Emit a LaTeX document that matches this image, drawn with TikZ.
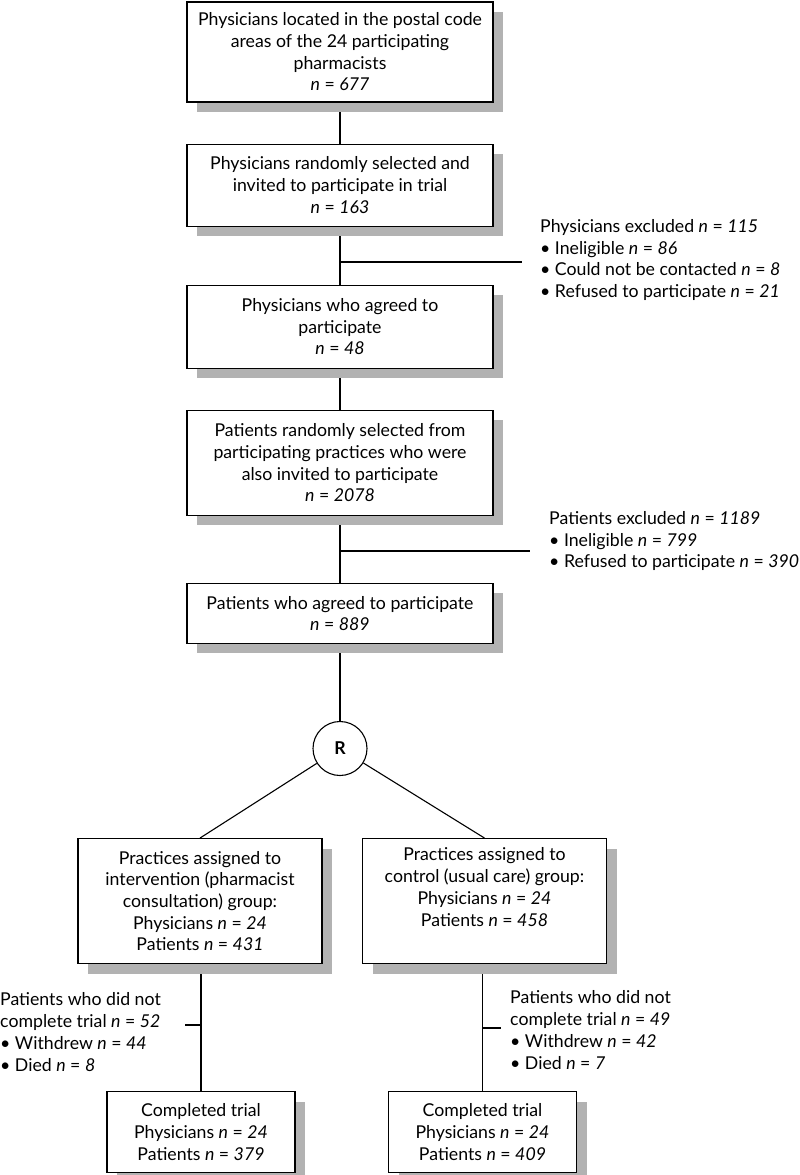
\documentclass[tikz,border=0pt]{standalone}
\usepackage{fontspec}
\setmainfont{Lato}
\usepackage{tikz}
\usetikzlibrary{positioning, shadows, backgrounds, calc}
\newcommand{\diagfont}{\fontsize{17.7}{21.7}\selectfont}
\newcommand{\nn}[1]{\textit{n} = \textit{#1}}
\tikzstyle{stagebox} = [rectangle, draw=black, line width=1.1pt, fill=white, align=center, minimum width=306pt, inner sep=0pt, drop shadow={shadow xshift=10pt, shadow yshift=-10pt, fill=black!30, opacity=1}]
\tikzstyle{armbox} = [stagebox, minimum width=244pt, minimum height=125pt]
\tikzstyle{donebox} = [stagebox, minimum width=188pt, minimum height=81pt]
\tikzstyle{excl} = [align=left, anchor=west, inner sep=0pt]
\tikzstyle{link} = [line width=1.1pt]

\begin{document}
\begin{tikzpicture}[x=1pt, y=-1pt, font=\diagfont]
    \useasboundingbox (0,0) rectangle (800,1175);

    % Physicians
    \node (b1) [stagebox, minimum height=100pt] at (340,52) {Physicians located in the postal code\\areas of the 24 participating\\pharmacists\\\nn{677}};
    \node (b2) [stagebox, minimum height=82pt, below=41pt of b1] {Physicians randomly selected and\\invited to participate in trial\\\nn{163}};
    \node (b3) [stagebox, minimum height=83pt, below=58pt of b2] {Physicians who agreed to\\participate\\\nn{48}};

    % Patients
    \node (b4) [stagebox, minimum height=105pt, below=41pt of b3] {Patients randomly selected from\\participating practices who were\\also invited to participate\\\nn{2078}};
    \node (b5) [stagebox, minimum height=60pt, below=67pt of b4] {Patients who agreed to participate\\\nn{889}};

    % Exclusions
    \node (phexcl) [excl] at (540,260) {Physicians excluded \nn{115}\\\textbullet\ Ineligible \nn{86}\\\textbullet\ Could not be contacted \nn{8}\\\textbullet\ Refused to participate \nn{21}};
    \node (paexcl) [excl] at (549,541) {Patients excluded \nn{1189}\\\textbullet\ Ineligible \nn{799}\\\textbullet\ Refused to participate \nn{390}};
    \coordinate (j1) at (340,262);
    \coordinate (j1e) at (522,262);
    \coordinate (j2) at (340,551);
    \coordinate (j2e) at (530,551);

    % Randomisation
    \node (rand) [circle, draw=black, line width=1.1pt, minimum size=54pt, inner sep=0pt, font=\diagfont\bfseries, below=77pt of b5] {R};
    \node (armA) [armbox, below=62pt of rand, xshift=-140pt] {Practices assigned to\\intervention (pharmacist\\consultation) group:\\Physicians \nn{24}\\Patients \nn{431}};
    \node (armB) [armbox, below=62pt of rand, xshift=144.5pt] {Practices assigned to\\control (usual care) group:\\Physicians \nn{24}\\Patients \nn{458}\\\strut};

    % Follow-up
    \node (doneA) [donebox, below=127pt of armA, xshift=1pt] {Completed trial\\Physicians \nn{24}\\Patients \nn{379}};
    \node (doneB) [donebox, below=127pt of armB, xshift=-2pt] {Completed trial\\Physicians \nn{24}\\Patients \nn{409}};
    \node (dropA) [excl] at (0,1032) {Patients who did not\\complete trial \nn{52}\\\textbullet\ Withdrew \nn{44}\\\textbullet\ Died \nn{8}};
    \node (dropB) [excl] at (510,1030) {Patients who did not\\complete trial \nn{49}\\\textbullet\ Withdrew \nn{42}\\\textbullet\ Died \nn{7}};
    \coordinate (j3) at (201,1025);
    \coordinate (j3e) at (185,1025);
    \coordinate (j4) at (483,1028);
    \coordinate (j4e) at (501,1028);

    % --- Lines ---
    \begin{scope}[on background layer]
        \draw [link] (b1) -- (b2);
        \draw [link] (b2) -- (b3);
        \draw [link] (b3) -- (b4);
        \draw [link] (b4) -- (b5);
        \draw [link] (b5) -- (rand);
        \draw [link] (rand) -- (armA.north);
        \draw [link] (rand) -- (armB.north);
        \draw [link] (armA.south -| doneA.north) -- (doneA.north);
        \draw [link] (armB.south -| doneB.north) -- (doneB.north);
        \draw [link] (j1) -- (j1e);
        \draw [link] (j2) -- (j2e);
        \draw [link] (j3) -- (j3e);
        \draw [link] (j4) -- (j4e);
    \end{scope}
\end{tikzpicture}
\end{document}
